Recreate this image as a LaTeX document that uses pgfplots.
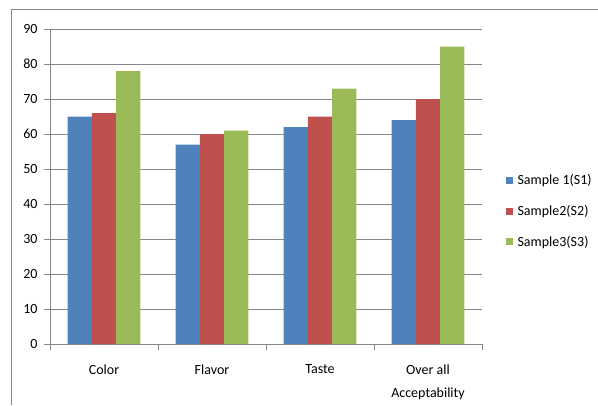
\documentclass[border=0pt]{standalone}
\usepackage{pgfplots}
\pgfplotsset{compat=1.18}
\usepackage{fontspec}
\setmainfont{Carlito}
\definecolor{s1}{RGB}{79,129,189}
\definecolor{s2}{RGB}{192,80,77}
\definecolor{s3}{RGB}{155,187,89}
\definecolor{gridc}{RGB}{134,134,134}
\begin{document}
\begin{tikzpicture}[x=1bp,y=1bp]
\path[use as bounding box] (0,0) rectangle (598,405);
\draw[gridc, line width=0.8bp] (11,0) -- (11,396) -- (598,396);
\begin{axis}[at={(50bp,61bp)}, anchor=south west, scale only axis,
  width=432bp, height=315bp,
  ybar=0pt, bar width=24.3bp,
  xmin=-0.5, xmax=3.5, ymin=0, ymax=90, ytick={0,10,...,90},
  xtick={0,1,2,3},
  xticklabels={Color,Flavor,Taste,{Over all\\Acceptability}},
  minor xtick={-0.5,0.5,1.5,2.5,3.5},
  axis x line*=bottom, axis y line*=left,
  axis line style={gridc, line width=1bp, -},
  ymajorgrids, grid style={gridc, line width=1bp},
  tick align=outside, major tick length=6bp, minor tick length=6bp,
  tick style={gridc, line width=1bp},
  major x tick style={draw=none},
  /pgf/number format/assume math mode=true,
  tick label style={font=\fontsize{14bp}{17bp}\selectfont, text=black},
  x tick label style={align=center, font=\fontsize{14bp}{23bp}\selectfont, yshift=-11bp},
  yticklabel style={xshift=-3bp},
  legend style={at={(rel axis cs:1.054,0.422)}, anchor=west, draw=none, fill=none,
    font=\fontsize{14bp}{17bp}\selectfont, row sep=15bp, cells={anchor=west},
    inner sep=0pt, nodes={inner xsep=5bp}},
  legend image code/.code={\fill[#1] (0bp,-3.5bp) rectangle (7bp,3.5bp);},
]
\addplot[fill=s1, draw=none] coordinates {(0,65) (1,57) (2,62) (3,64)};
\addplot[fill=s2, draw=none] coordinates {(0,66) (1,60) (2,65) (3,70)};
\addplot[fill=s3, draw=none] coordinates {(0,78) (1,61) (2,73) (3,85)};
\legend{Sample 1(S1),Sample2(S2),Sample3(S3)}
\end{axis}
\end{tikzpicture}
\end{document}
